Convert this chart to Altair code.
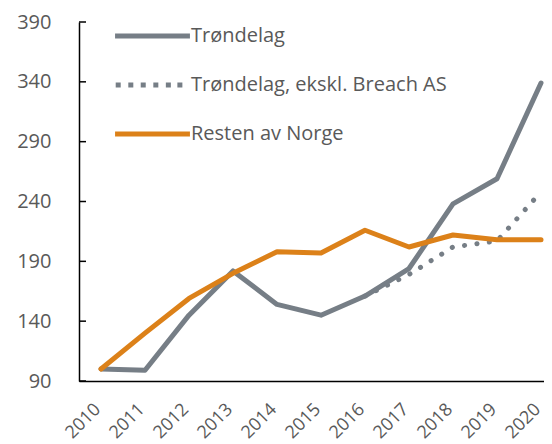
import altair as alt
import pandas as pd

years = list(range(2010, 2021))
trondelag = [100, 99, 145, 182, 154, 145, 161, 184, 238, 259, 339]
trondelag_ex_years = [2016, 2017, 2018, 2019, 2020]
trondelag_ex = [161, 179, 202, 207, 248]
resten = [100, 130, 159, 180, 198, 197, 216, 202, 212, 208, 208]
yvals = [90, 140, 190, 240, 290, 340, 390]

s1 = "Trøndelag"
s2 = "Trøndelag, ekskl. Breach AS"
s3 = "Resten av Norge"

rows = []
for y, v in zip(years, trondelag):
    rows.append({"year": y, "value": v, "series": s1})
for y, v in zip(trondelag_ex_years, trondelag_ex):
    rows.append({"year": y, "value": v, "series": s2})
for y, v in zip(years, resten):
    rows.append({"year": y, "value": v, "series": s3})
df = pd.DataFrame(rows)
tick_df = pd.DataFrame({"v": yvals})

domain = [s1, s2, s3]
colors = ["#767E86", "#767E86", "#DC8119"]

# legend symbol shapes (unit coordinates)
solid_path = "M-1.04,0H1.04"
dot_xs = [-0.953, -0.603, -0.258, 0.092, 0.44, 0.76]
dot_path = "".join(f"M{x - 0.069:.3f},0h0.139" for x in dot_xs)
shapes = [solid_path, dot_path, solid_path]

FONT = "Open Sans"
TXT = "#595959"

xscale = alt.Scale(domain=[2009.5, 2020.068], nice=False, zero=False)
yscale = alt.Scale(domain=[90, 390], nice=False, zero=False)
cscale = alt.Scale(domain=domain, range=colors)

leg = alt.Legend(title=None, orient="none", legendX=35, legendY=-24.5,
                 symbolSize=5184, symbolStrokeWidth=5, symbolOpacity=1,
                 rowPadding=-30.2, labelOffset=0, padding=0, labelLimit=500,
                 labelFontSize=20, labelColor=TXT, labelFont=FONT)

legend_layer = alt.Chart(df).transform_filter("false").mark_point(
    filled=False, strokeWidth=5, opacity=1
).encode(
    color=alt.Color("series:N", sort=domain, scale=cscale, legend=leg),
    shape=alt.Shape("series:N", sort=domain,
                    scale=alt.Scale(domain=domain, range=shapes), legend=leg),
)

xenc = alt.X("year:Q", scale=xscale,
             axis=alt.Axis(values=years, format="d", labelAngle=-45, labelAlign="right",
                           labelBaseline="alphabetic", ticks=False, grid=False,
                           labelPadding=29, labelOverlap=False,
                           domainColor="#000000", domainWidth=1.5, title=None,
                           labelFontSize=18, labelColor=TXT, labelFont=FONT))
yenc = alt.Y("value:Q", scale=yscale,
             axis=alt.Axis(values=yvals, ticks=False, grid=False,
                           labelPadding=28, domainColor="#000000", domainWidth=1.5, title=None,
                           labelFontSize=20, labelColor=TXT, labelFont=FONT))

solid = alt.Chart(df).transform_filter(
    alt.datum.series != s2
).mark_line(strokeWidth=5, strokeCap="round", strokeJoin="round").encode(
    x=xenc,
    y=yenc,
    color=alt.Color("series:N", sort=domain, scale=cscale, legend=leg),
    order="year:Q",
)

dotted = alt.Chart(df).transform_filter(
    alt.datum.series == s2
).mark_line(strokeWidth=5, strokeCap="round", strokeDash=[0.1, 12.4], color="#767E86").encode(
    x=alt.X("year:Q", scale=xscale),
    y=alt.Y("value:Q", scale=yscale),
    order="year:Q",
)

# inward tick marks on the y axis
ticks = alt.Chart(tick_df).mark_rule(color="#000000", strokeWidth=1.5).encode(
    y=alt.Y("v:Q", scale=yscale),
    x=alt.value(0),
    x2=alt.value(7),
)

final = alt.layer(legend_layer, dotted, solid, ticks).properties(
    width=465, height=359,
    padding={"left": 71, "top": 14, "right": 0, "bottom": 63},
    autosize=alt.AutoSizeParams(type="none"),
).configure_view(stroke=None)

final.save("out.html", embed_options={"renderer": "svg", "actions": False})
